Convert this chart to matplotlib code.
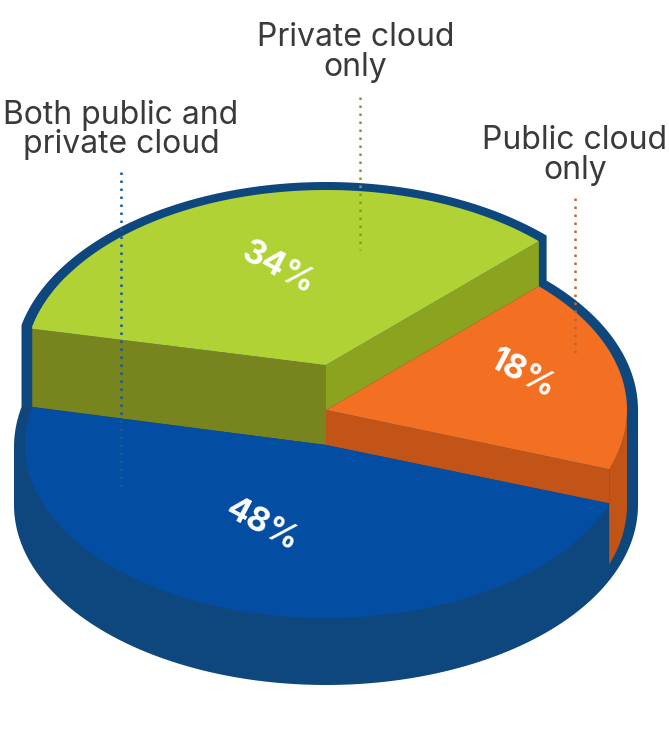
import numpy as np
import matplotlib
matplotlib.use("Agg")
import matplotlib.pyplot as plt
from matplotlib.patches import Polygon

categories = ["Private cloud\nonly", "Both public and\nprivate cloud", "Public cloud\nonly"]
shares = [34, 48, 18]
share_labels = ["34%", "48%", "18%"]

NAVY = "#0E477D"
TOP_COLORS = ["#B0D235", "#034EA2", "#F36F21"]
OLIVE_LEFT = "#78841E"
OLIVE_RIGHT = "#8CA31F"
ORANGE_WALL = "#C25418"
TEXT = "#3A3A3A"
FONT = "Inter"

CX = 326
RX = 301
RY = 175
START = 45


def arc(cy, a0, a1, rx=RX, ry=RY):
    t = np.radians(np.linspace(a0, a1, 120))
    return np.column_stack([CX + rx * np.cos(t), cy - ry * np.sin(t)])


def sector(cy, a0, a1, ry=RY):
    return np.vstack([[[CX, cy]], arc(cy, a0, a1, ry=ry)])


def add(ax, pts, color):
    ax.add_patch(Polygon(pts, closed=True, facecolor=color, edgecolor="none"))


# angles of each slice, from the shares
edges = START + np.cumsum([0] + shares) * 3.6
green0, green1 = edges[0], edges[1]
blue0, blue1 = edges[1], edges[2]
orange0, orange1 = edges[2], edges[3]

fig = plt.figure(figsize=(6.69, 7.56), dpi=100)
ax = fig.add_axes([0, 0, 1, 1])
ax.set_xlim(0, 669)
ax.set_ylim(756, 0)
ax.axis("off")

# navy silhouette behind everything
outline = np.vstack([
    arc(365, green0, green1, rx=312, ry=183),
    arc(447, green1, 180, rx=312, ry=183),
    arc(505, 180, 360, rx=312, ry=180),
    arc(410, 360, 360 + START, rx=312, ry=183),
])
add(ax, outline, NAVY)

# green slice, raised
ga = arc(367, green0, green1)
ga[0] = arc(365, green0, green1)[0]
add(ax, np.vstack([[CX, 365], ga[-1], ga[-1] + [0, 78], [CX, 445]]), OLIVE_LEFT)
add(ax, np.vstack([[CX, 365], ga[0], ga[0] + [0, 45], [CX, 410]]), OLIVE_RIGHT)
add(ax, sector(365, green0, green1), TOP_COLORS[0])
add(ax, np.vstack([[CX, 365], arc(365, 150, green1), ga[-1]]), TOP_COLORS[0])

# orange slice with its wall and outer side
oa = arc(410, orange0, orange1)
add(ax, np.vstack([arc(410, orange0, 360), arc(505, 360, orange0)]), ORANGE_WALL)
add(ax, np.vstack([[CX, 410], oa[0], oa[0] + [0, 34], [CX, 445]]), ORANGE_WALL)
add(ax, sector(410, orange0, orange1), TOP_COLORS[2])

# blue slice
add(ax, sector(445, blue0, blue1, ry=173), TOP_COLORS[1])
blue_edge = arc(447, blue0, blue0, ry=173)[0]
add(ax, np.vstack([[CX, 445], blue_edge, arc(445, 180, 172, ry=173)]), TOP_COLORS[1])

# leader lines
ax.plot([121, 121], [172, 492], color="#1C5A96", lw=1.8, ls=(0, (1, 2.2)))
ax.plot([360, 360], [97, 250], color="#8C9A2C", lw=1.8, ls=(0, (1, 2.2)))
ax.plot([575, 575], [198, 354], color="#C8622E", lw=1.8, ls=(0, (1, 2.2)))

# category labels
ax.text(355.5, 52.5, categories[0], ha="center", va="center", fontsize=23, color=TEXT,
        family=FONT, linespacing=0.93)
ax.text(121, 130, categories[1], ha="center", va="center", fontsize=23, color=TEXT,
        family=FONT, linespacing=0.93)
ax.text(575, 155.5, categories[2], ha="center", va="center", fontsize=23, color=TEXT,
        family=FONT, linespacing=0.93)

# percentages on the slices
ax.text(278, 268, share_labels[0], ha="center", va="center", fontsize=24, color="white",
        family=FONT, weight="bold", rotation=-28, rotation_mode="anchor")
ax.text(262, 525, share_labels[1], ha="center", va="center", fontsize=24, color="white",
        family=FONT, weight="bold", rotation=-28, rotation_mode="anchor")
ax.text(522, 374, share_labels[2], ha="center", va="center", fontsize=24, color="white",
        family=FONT, weight="bold", rotation=-28, rotation_mode="anchor")

fig.savefig("out.png", dpi=100, facecolor="white")
